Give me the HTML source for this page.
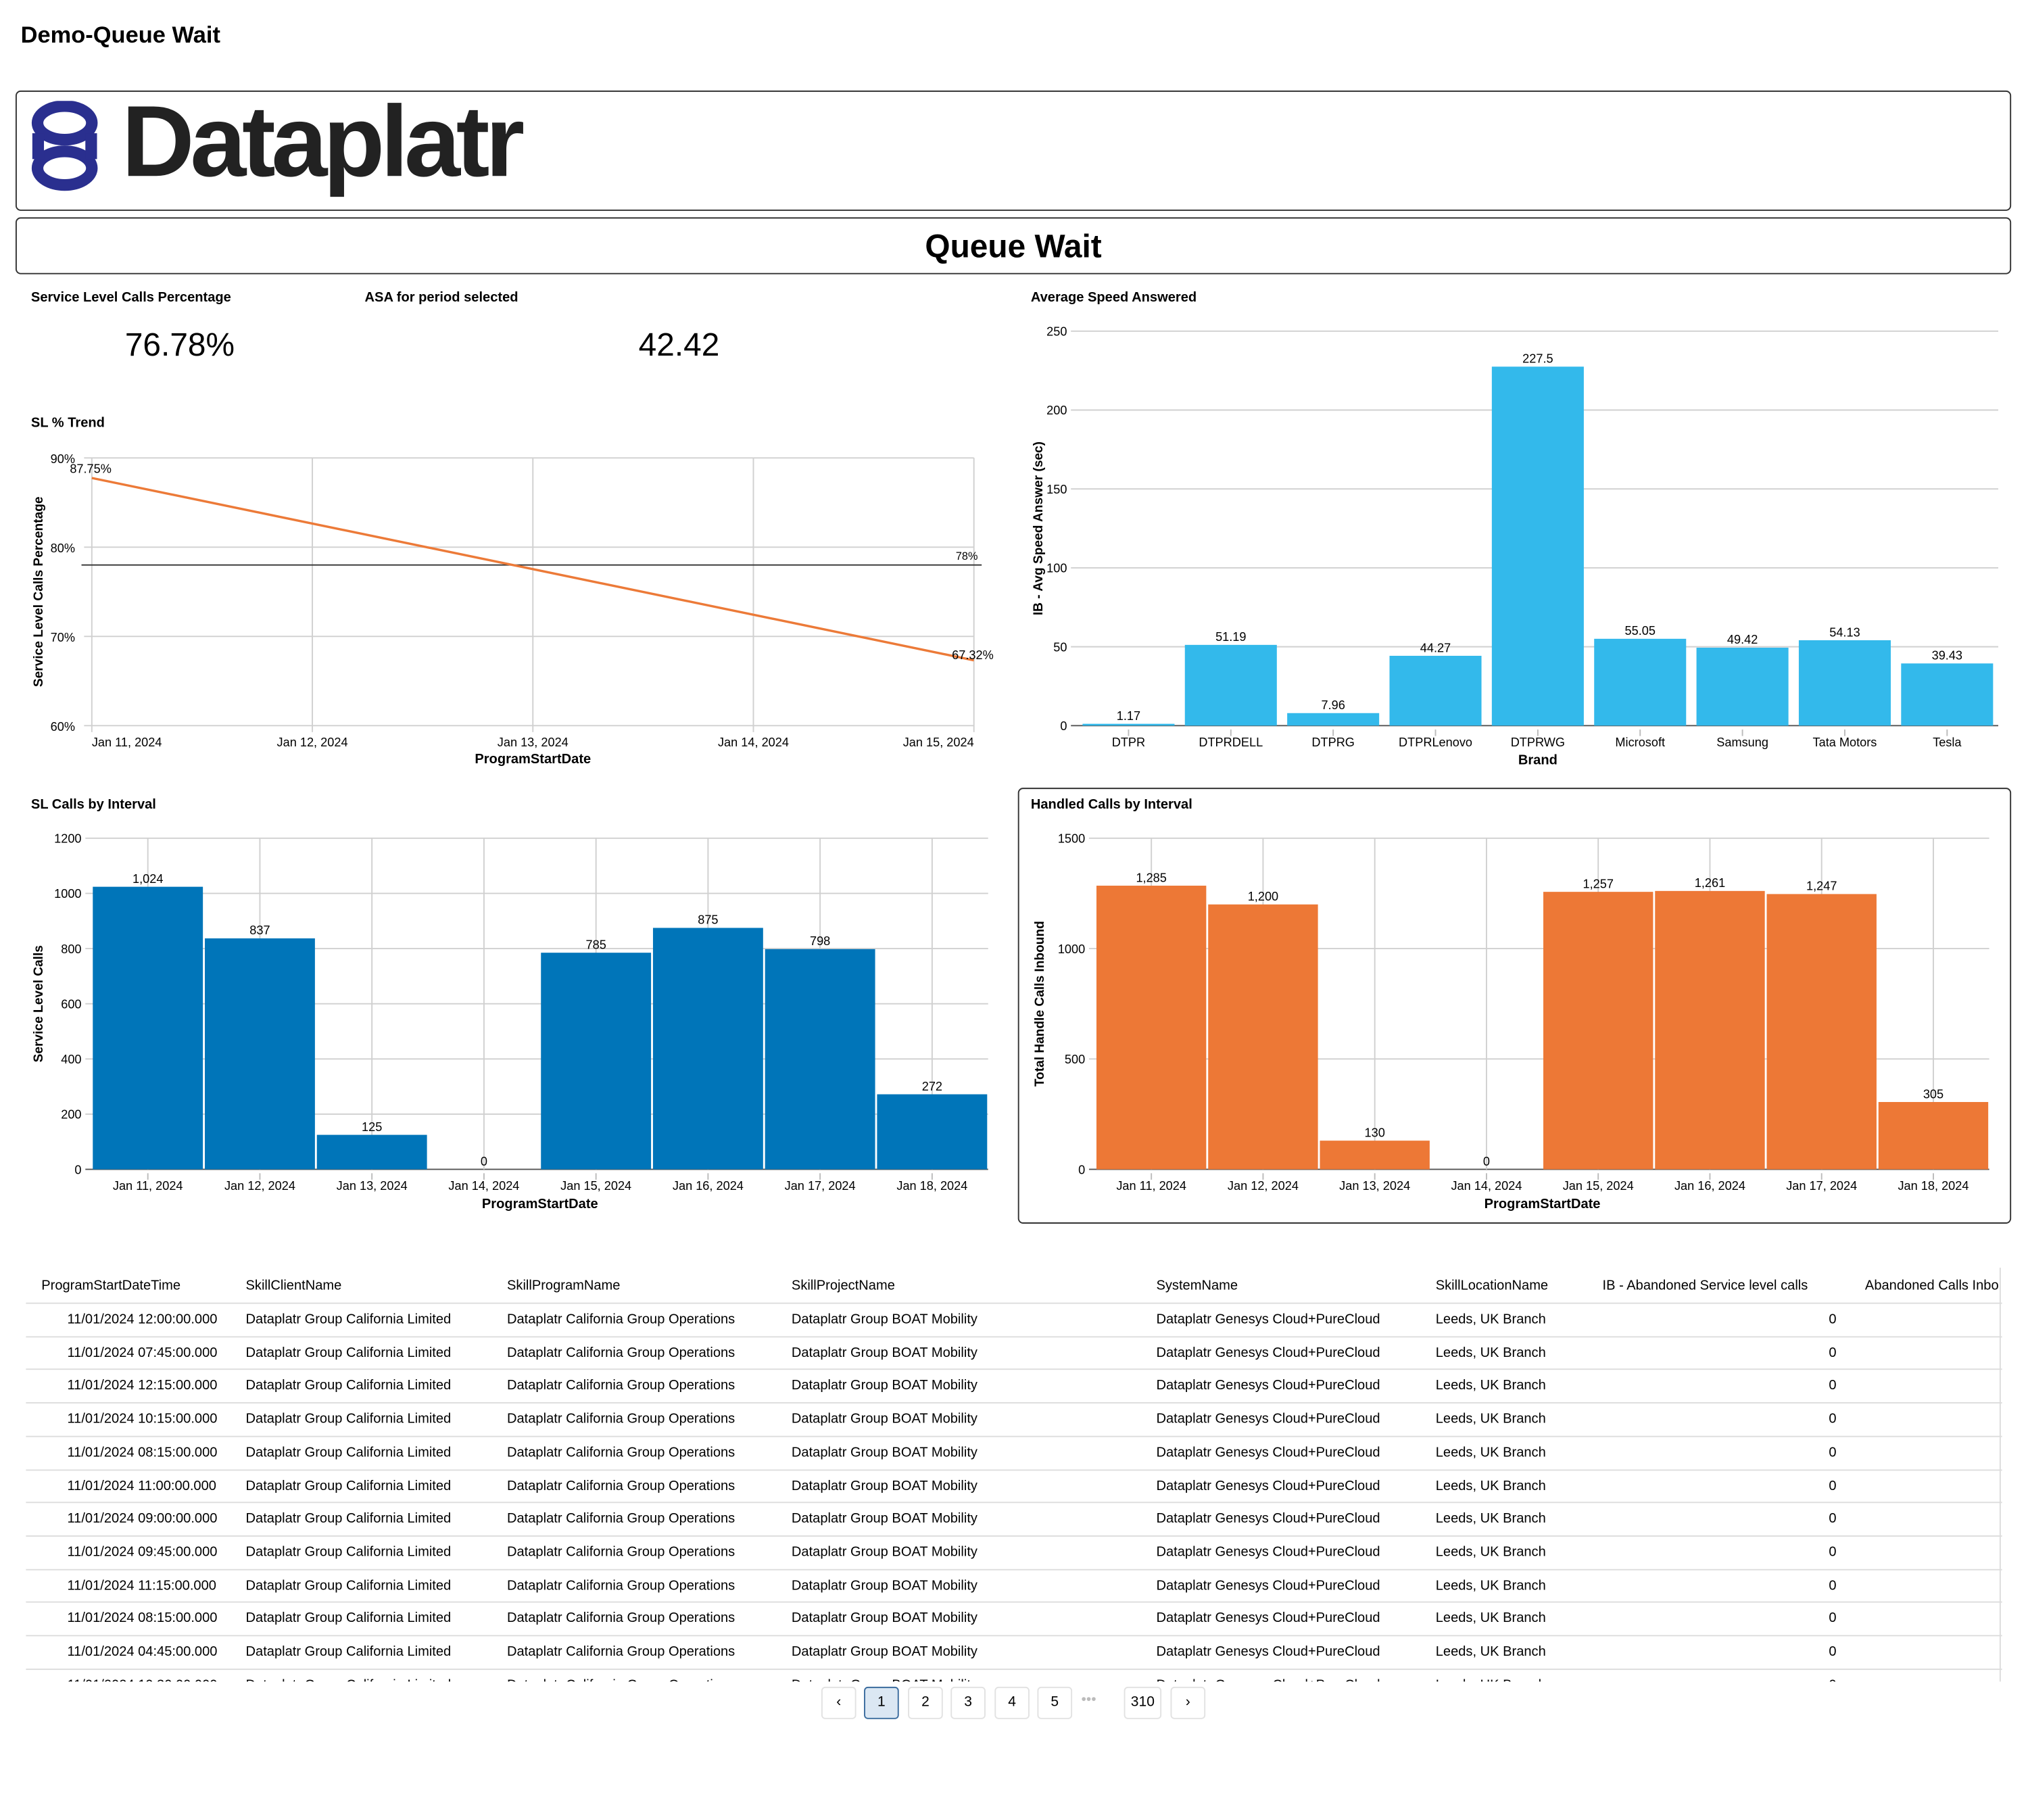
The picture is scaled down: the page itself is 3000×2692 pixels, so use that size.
<!DOCTYPE html>
<html><head><meta charset="utf-8">
<style>
html,body{margin:0;padding:0;background:#fff;}
body{width:3000px;height:2692px;overflow:hidden;}
#wrap{position:absolute;left:0;top:0;width:1568px;height:1407px;transform:scale(1.91327);transform-origin:0 0;font-family:"Liberation Sans",sans-serif;color:#000;}
.abs{position:absolute;}
.box{position:absolute;border:1px solid #333;border-radius:4px;box-sizing:border-box;}
.ttl{position:absolute;font-size:10.5px;font-weight:bold;}
.kpi{position:absolute;font-size:25px;transform:translateX(-50%);}
svg text{font-family:"Liberation Sans",sans-serif;}
.cell{position:absolute;font-size:10.5px;white-space:nowrap;}
.pg{position:absolute;top:1304px;width:27px;height:25px;border:1px solid #e2e2e2;border-radius:3px;box-sizing:border-box;font-size:11px;text-align:center;line-height:23px;background:#fff;}
</style></head><body>
<div id="wrap">
<div class="abs" style="left:16px;top:17px;font-size:18px;font-weight:bold;">Demo-Queue Wait</div>

<div class="box" style="left:12px;top:70px;width:1543px;height:93px;">
 <svg class="abs" style="left:9px;top:7px" width="60" height="72">
  <ellipse cx="28" cy="17" rx="21" ry="13" fill="none" stroke="#2a2f8f" stroke-width="9"/>
  <ellipse cx="28" cy="52" rx="21" ry="13" fill="none" stroke="#2a2f8f" stroke-width="9"/>
  <rect x="3" y="25" width="9" height="20" fill="#2a2f8f"/><rect x="44" y="25" width="9" height="20" fill="#2a2f8f"/>
 </svg>
 <div class="abs" style="left:81px;top:-7px;font-size:78px;font-weight:bold;color:#222;letter-spacing:-3.3px;">Dataplatr</div>
</div>

<div class="box" style="left:12px;top:168px;width:1543px;height:44px;">
 <div class="abs" style="left:0;width:100%;top:8px;text-align:center;font-size:25px;font-weight:bold;">Queue Wait</div>
</div>

<div class="ttl" style="left:24px;top:224px">Service Level Calls Percentage</div>
<div class="kpi" style="left:139px;top:253px">76.78%</div>
<div class="ttl" style="left:282px;top:224px">ASA for period selected</div>
<div class="kpi" style="left:525px;top:253px">42.42</div>

<div class="ttl" style="left:797px;top:224px">Average Speed Answered</div>
<div class="ttl" style="left:24px;top:321px">SL % Trend</div>
<div class="ttl" style="left:24px;top:616px">SL Calls by Interval</div>
<div class="box" style="left:787px;top:609px;width:768px;height:337px;"></div>
<div class="ttl" style="left:797px;top:616px">Handled Calls by Interval</div>

<svg id="charts" class="abs" style="left:0;top:0" width="1568" height="960"></svg>

<div id="table" class="abs" style="left:20px;top:980px;width:1528px;height:320px;overflow:hidden;"></div>
<div class="abs" style="left:1546px;top:980px;width:1px;height:320px;background:#ddd"></div>

<div class="pg" style="left:635px">‹</div>
<div class="pg" style="left:668px;background:#dbe7f3;border-color:#3b6c9e">1</div>
<div class="pg" style="left:702px">2</div>
<div class="pg" style="left:735px">3</div>
<div class="pg" style="left:769px">4</div>
<div class="pg" style="left:802px">5</div>
<div class="abs" style="left:836px;top:1308px;font-size:11px;color:#bbb">•••</div>
<div class="pg" style="left:869px;width:29px">310</div>
<div class="pg" style="left:905px">›</div>
</div>

<script>
const trendDates=["Jan 11, 2024","Jan 12, 2024","Jan 13, 2024","Jan 14, 2024","Jan 15, 2024"];
const trendStart=87.75, trendEnd=67.32, trendTarget=78;
const trendTicks=[60,70,80,90];
const brands=["DTPR","DTPRDELL","DTPRG","DTPRLenovo","DTPRWG","Microsoft","Samsung","Tata Motors","Tesla"];
const asaValues=[1.17,51.19,7.96,44.27,227.5,55.05,49.42,54.13,39.43];
const asaTicks=[0,50,100,150,200,250];
const days=["Jan 11, 2024","Jan 12, 2024","Jan 13, 2024","Jan 14, 2024","Jan 15, 2024","Jan 16, 2024","Jan 17, 2024","Jan 18, 2024"];
const slCalls=[1024,837,125,0,785,875,798,272];
const slTicks=[0,200,400,600,800,1000,1200];
const handled=[1285,1200,130,0,1257,1261,1247,305];
const handledTicks=[0,500,1000,1500];

const NS="http://www.w3.org/2000/svg";
const svg=document.getElementById('charts');
function mk(tag,attrs,txt){const e=document.createElementNS(NS,tag);for(const k in attrs)e.setAttribute(k,attrs[k]);if(txt!==undefined)e.textContent=txt;svg.appendChild(e);return e;}
function fmt(v){return v.toLocaleString('en-US');}

function linear(d0,d1,r0,r1){return v=>r0+(v-d0)/(d1-d0)*(r1-r0);}

// SL trend
(function(){
 const L=71,R=753,T=354,B=561;
 const y=linear(60,90,B,T);
 const x=i=>L+i*(R-L)/(trendDates.length-1);
 trendTicks.forEach(t=>{let g=mk('line',{x1:L-6,x2:R,y1:y(t),y2:y(t),stroke:'#d0d0d0'});
  
  let tx=mk('text',{x:L-13,y:y(t)+4,'font-size':9.5,'text-anchor':'end'},t+'%');
  });
 trendDates.forEach((d,i)=>{let g=mk('line',{x1:x(i),x2:x(i),y1:T,y2:B+5,stroke:'#d0d0d0'});
  
  let anchor=i==0?'start':(i==trendDates.length-1?'end':'middle');
  let tx=mk('text',{x:x(i),y:577,'font-size':9.5,'text-anchor':anchor},d);
  });
 let ref=mk('line',{x1:63,x2:759,y1:y(trendTarget),y2:y(trendTarget),stroke:'#333'});
 
 let rt=mk('text',{x:756,y:y(trendTarget)-4,'font-size':8.5,'text-anchor':'end'},trendTarget+'%');
 
 let ln=mk('line',{x1:L,y1:y(trendStart),x2:R,y2:y(trendEnd),stroke:'#ec7a38','stroke-width':1.8});
 
 let a=mk('text',{x:L-17,y:y(trendStart)-4,'font-size':9.5},trendStart+'%');
 
 let b=mk('text',{x:R-17,y:y(trendEnd)-1,'font-size':9.5},trendEnd+'%');
 
 let yt=mk('text',{x:0,y:0,'font-size':10,'font-weight':'bold','text-anchor':'middle',transform:`translate(33,${(T+B)/2}) rotate(-90)`},'Service Level Calls Percentage');
 
 let xt=mk('text',{x:412,y:590,'font-size':10.5,'font-weight':'bold','text-anchor':'middle'},'ProgramStartDate');
 
})();

function barChart(o){
 const {L,R,T,B,cats,vals,ticks,max,color,prefix,ytitle,xtitle,ytx,gridV,fmtv}=o;
 const y=linear(0,max,B,T);
 const bw=(R-L)/cats.length;
 ticks.forEach(t=>{let g=mk('line',{x1:L-5,x2:R,y1:y(t),y2:y(t),stroke:t==0?'#555':'#d0d0d0'});
  
  let tx=mk('text',{x:L-8,y:y(t)+3.5,'font-size':9.5,'text-anchor':'end'},t);
  });
 cats.forEach((c,i)=>{const cx=L+bw*(i+0.5);
  if(gridV){let g=mk('line',{x1:cx,x2:cx,y1:T,y2:B,stroke:'#d0d0d0'});
   }
  let tk=mk('line',{x1:cx,x2:cx,y1:B+3,y2:B+8,stroke:'#bbb'});
  });
 cats.forEach((c,i)=>{const cx=L+bw*(i+0.5);const v=vals[i];const gap=o.gap;
  let r=mk('rect',{x:L+bw*i+gap/2,y:y(v),width:bw-gap,height:B-y(v),fill:color});
  
  let lb=mk('text',{x:cx,y:y(v)-3,'font-size':9.5,'text-anchor':'middle'},fmtv(v));
  
  let tx=mk('text',{x:cx,y:B+16,'font-size':9.5,'text-anchor':'middle'},c);
  });
 let yt=mk('text',{x:0,y:0,'font-size':10,'font-weight':'bold','text-anchor':'middle',transform:`translate(${ytx},${(T+B)/2}) rotate(-90)`},ytitle);
 
 let xt=mk('text',{x:(L+R)/2,y:B+30,'font-size':10.5,'font-weight':'bold','text-anchor':'middle'},xtitle);
 
}
barChart({L:833,R:1545,T:256,B:561,cats:brands,vals:asaValues,ticks:asaTicks,max:250,color:'#33b9eb',prefix:'asa',ytitle:'IB - Avg Speed Answer (sec)',xtitle:'Brand',ytx:806,gridV:false,gap:8,fmtv:v=>String(v)});
barChart({L:71,R:764,T:648,B:904,cats:days,vals:slCalls,ticks:slTicks,max:1200,color:'#0075b9',prefix:'sl-calls',ytitle:'Service Level Calls',xtitle:'ProgramStartDate',ytx:33,gridV:true,gap:1.5,fmtv:fmt});
barChart({L:847,R:1538,T:648,B:904,cats:days,vals:handled,ticks:handledTicks,max:1500,color:'#ed7836',prefix:'handled',ytitle:'Total Handle Calls Inbound',xtitle:'ProgramStartDate',ytx:807,gridV:true,gap:1.5,fmtv:fmt});

// table
const tbl=document.getElementById('table');
const cols=[12,170,372,592,874,1090,1219,1422];
const heads=["ProgramStartDateTime","SkillClientName","SkillProgramName","SkillProjectName","SystemName","SkillLocationName","IB - Abandoned Service level calls","Abandoned Calls Inbo"];
const times=["12:00:00.000","07:45:00.000","12:15:00.000","10:15:00.000","08:15:00.000","11:00:00.000","09:00:00.000","09:45:00.000","11:15:00.000","08:15:00.000","04:45:00.000","10:30:00.000"];
function cell(x,y,t,name,extra){const d=document.createElement('div');d.className='cell';d.style.left=x+'px';d.style.top=y+'px';if(extra)Object.assign(d.style,extra);d.textContent=t;
 
 
 tbl.appendChild(d);}
heads.forEach((h,i)=>cell(cols[i],8,h,'table-header-cell'));
times.forEach((t,r)=>{const y=34+r*25.7;
 const ln=document.createElement('div');ln.style.cssText=`position:absolute;left:0;width:1528px;top:${y-7}px;height:1px;background:#ddd`;
 
 
 tbl.appendChild(ln);
 cell(32,y,'11/01/2024 '+t,'table-cell-datetime');
 cell(cols[1],y,'Dataplatr Group California Limited','table-cell-client');
 cell(cols[2],y,'Dataplatr California Group Operations','table-cell-program');
 cell(cols[3],y,'Dataplatr Group BOAT Mobility','table-cell-project');
 cell(cols[4],y,'Dataplatr Genesys Cloud+PureCloud','table-cell-system');
 cell(cols[5],y,'Leeds, UK Branch','table-cell-location');
 cell(1394,y,'0','table-cell-abandoned-sl');
});
</script>
</body></html>
